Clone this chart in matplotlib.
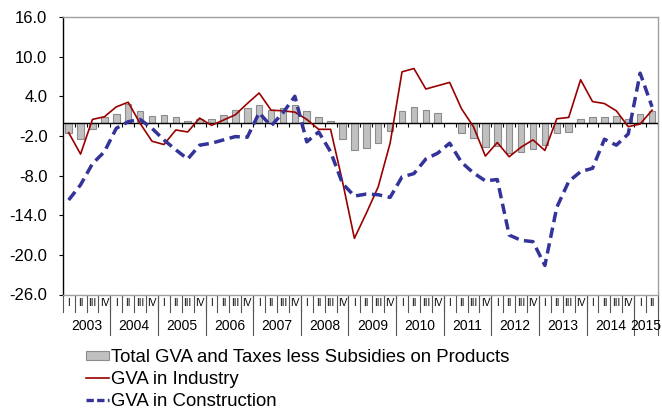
import matplotlib
matplotlib.use("Agg")
import matplotlib.pyplot as plt
import matplotlib.transforms as mtransforms
from matplotlib.lines import Line2D
from matplotlib.patches import Patch
import numpy as np

plt.rcParams['font.family'] = ['Liberation Sans', 'DejaVu Sans']

years = ['2003', '2004', '2005', '2006', '2007', '2008', '2009',
         '2010', '2011', '2012', '2013', '2014', '2015']
quarters = ['I', 'II', 'III', 'IV']
n_quarters_last_year = 2

total_gva = [-1.6, -2.4, -0.9, 0.8, 1.3, 2.9, 1.7, 1.0, 1.1, 0.8,
             0.3, 0.5, 0.6, 1.1, 1.9, 2.2, 2.7, 2.0, 2.2, 2.7,
             1.8, 0.9, 0.25, -2.4, -4.1, -3.9, -3.0, -1.3, 1.7, 2.4,
             2.0, 1.5, -0.1, -1.5, -2.3, -3.75, -3.5, -4.6, -4.4, -4.0,
             -3.4, -1.5, -1.4, 0.5, 0.8, 0.8, 1.0, 0.6, 1.3, 1.7]
industry = [-1.5, -4.75, 0.5, 0.9, 2.4, 3.1, -0.1, -2.8, -3.3, -1.1,
            -1.4, 0.7, -0.4, 0.4, 1.2, 2.9, 4.5, 1.9, 1.8, 1.6,
            0.5, -1.0, -1.0, -8.9, -17.5, -13.7, -9.7, -3.1, 7.7, 8.2,
            5.1, 5.6, 6.1, 2.1, -0.6, -5.05, -3.0, -5.15, -3.7, -2.6,
            -4.2, 0.6, 0.8, 6.5, 3.2, 2.9, 1.8, -0.6, -0.2, 1.9]
construction = [-11.7, -9.4, -6.2, -4.4, -0.85, 0.15, 0.5, -0.85, -2.6, -4.1,
                -5.5, -3.4, -3.1, -2.6, -2.1, -2.2, 1.5, -0.5, 1.5, 4.0,
                -2.9, -1.4, -4.4, -9.2, -11.1, -10.8, -10.9, -11.3, -8.2, -7.7,
                -5.5, -4.6, -3.1, -6.0, -7.6, -8.8, -8.6, -17.0, -17.8, -18.0,
                -21.6, -12.8, -8.9, -7.4, -6.9, -2.5, -3.4, -1.7, 7.5, 2.4]
y_ticks = [16.0, 10.0, 4.0, -2.0, -8.0, -14.0, -20.0, -26.0]
labels = ['Total GVA and Taxes less Subsidies on Products',
          'GVA in Industry', 'GVA in Construction']

W, H = 662, 409
fig = plt.figure(figsize=(W / 100, H / 100), dpi=100)
ax = fig.add_axes([62.7 / W, 1 - 294.5 / H, (658 - 62.7) / W, (294.5 - 17) / H])

n = len(total_gva)
x = np.arange(n)

ax.bar(x, total_gva, width=0.55, color='#C0C0C0', edgecolor='#8C8C8C',
       linewidth=0.8, zorder=2)
ax.axhline(0, color='black', linewidth=1.0, zorder=3)
ax.vlines(np.arange(n) + 0.5, -0.6, 0, color='black', linewidth=0.8, zorder=3)
ax.plot(x, industry, color='#990000', linewidth=1.2, zorder=4)
blue, = ax.plot(x, construction, color='#333399', linewidth=2.5, zorder=5,
                solid_capstyle='butt')
blue.set_dashes([3.0, 1.6])

ax.set_xlim(-0.5, n - 0.5)
ax.set_ylim(-26, 16)
ax.set_yticks(y_ticks)
ax.set_yticklabels([f'{v:.1f}' for v in y_ticks], fontsize=12)
ax.tick_params(axis='y', direction='out', length=3, width=0.8, pad=8, colors='black')
ax.set_xticks([])
for side in ['top', 'right', 'bottom']:
    ax.spines[side].set_color('#A0A0A0')
    ax.spines[side].set_linewidth(1.0)
ax.spines['left'].set_color('black')
ax.spines['left'].set_linewidth(1.0)

# multi-level category labels
tr = mtransforms.blended_transform_factory(ax.transData, fig.transFigure)
def fy(px):
    return 1 - px / H

q_labels = []
for yi, yr in enumerate(years):
    nq = 4 if yi < len(years) - 1 else n_quarters_last_year
    q_labels.extend(quarters[:nq])
for i, q in enumerate(q_labels):
    ax.text(i, fy(303), q, transform=tr, ha='center', va='center',
            fontsize=7.2, clip_on=False)
for b in range(n + 1):
    ax.add_line(Line2D([b - 0.5, b - 0.5], [fy(295), fy(312)], transform=tr,
                       color='#555555', linewidth=0.8, clip_on=False))
start = 0
for yi, yr in enumerate(years):
    nq = 4 if yi < len(years) - 1 else n_quarters_last_year
    ax.text(start + (nq - 1) / 2, fy(326), yr, transform=tr, ha='center',
            va='center', fontsize=10, clip_on=False)
    start += nq
    ax.add_line(Line2D([start - 0.5, start - 0.5], [fy(295), fy(335)], transform=tr,
                       color='#555555', linewidth=0.8, clip_on=False))

handles = [Patch(facecolor='#C0C0C0', edgecolor='#8C8C8C', linewidth=0.8),
           Line2D([0], [0], color='#990000', linewidth=1.2),
           Line2D([0], [0], color='#333399', linewidth=2.4, dashes=[2.2, 1.0])]
fig.legend(handles, labels, loc='upper left', bbox_to_anchor=(86 / W, fy(349)),
           frameon=False, fontsize=13.4, handlelength=1.25, handleheight=0.4,
           handletextpad=0.1, labelspacing=0.26, borderpad=0, borderaxespad=0)

fig.savefig('out.png', dpi=100)
